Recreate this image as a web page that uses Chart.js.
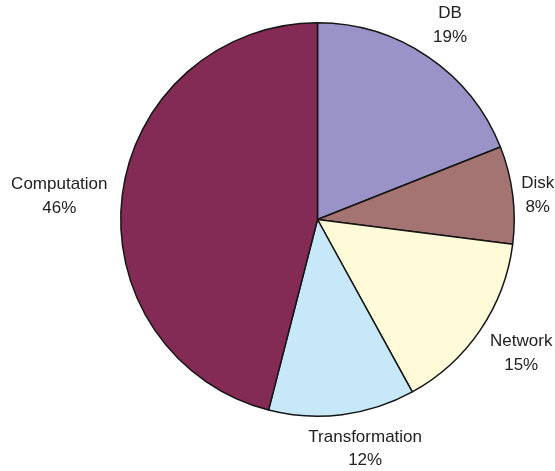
<!DOCTYPE html>
<html>
<head>
<meta charset="utf-8">
<script src="https://cdn.jsdelivr.net/npm/chart.js@4/dist/chart.umd.min.js"></script>
<style>
  html, body { margin: 0; padding: 0; background: #fff; }
  #wrap { width: 555px; height: 471px; }
</style>
</head>
<body>
<div id="wrap"><canvas id="timeChart" width="555" height="471"></canvas></div>
<script>
// share of time spent per stage (percent)
const stages = ['DB', 'Disk', 'Network', 'Transformation', 'Computation'];
const shares = [19, 8, 15, 12, 46];
const sliceColors = ['#9a93c7', '#a47472', '#fffad7', '#c7e8f9', '#832b55'];

// where each label sits relative to the rim point at the slice's middle angle
const labelNudge = [[22, -33], [25, -1], [41, 22], [23, 33], [-63, 0]];

const outsideLabels = {
    id: 'outsideLabels',
    afterDatasetsDraw(chart) {
        const ctx = chart.ctx;
        const arcs = chart.getDatasetMeta(0).data;
        ctx.save();
        ctx.font = '17px Arial, "Liberation Sans", sans-serif';
        ctx.fillStyle = '#222';
        ctx.textAlign = 'center';
        ctx.textBaseline = 'alphabetic';
        arcs.forEach((arc, i) => {
            const { x, y, startAngle, endAngle, outerRadius } = arc.getProps(['x', 'y', 'startAngle', 'endAngle', 'outerRadius'], true);
            const mid = (startAngle + endAngle) / 2;
            const cx = x + Math.cos(mid) * outerRadius + labelNudge[i][0];
            const cy = y + Math.sin(mid) * outerRadius + labelNudge[i][1];
            ctx.fillText(stages[i], cx, cy - 11.75 + 6);
            ctx.fillText(shares[i] + '%', cx, cy + 11.75 + 6);
        });
        ctx.restore();
    }
};

new Chart(document.getElementById('timeChart'), {
    type: 'pie',
    data: {
        labels: stages,
        datasets: [{
            data: shares,
            backgroundColor: sliceColors,
            borderColor: '#151515',
            borderWidth: 1.5
        }]
    },
    options: {
        responsive: false,
        animation: false,
        layout: { padding: { left: 120, right: 40, top: 22, bottom: 54 } },
        plugins: {
            legend: { display: false },
            tooltip: { enabled: false }
        }
    },
    plugins: [outsideLabels]
});
</script>
</body>
</html>
